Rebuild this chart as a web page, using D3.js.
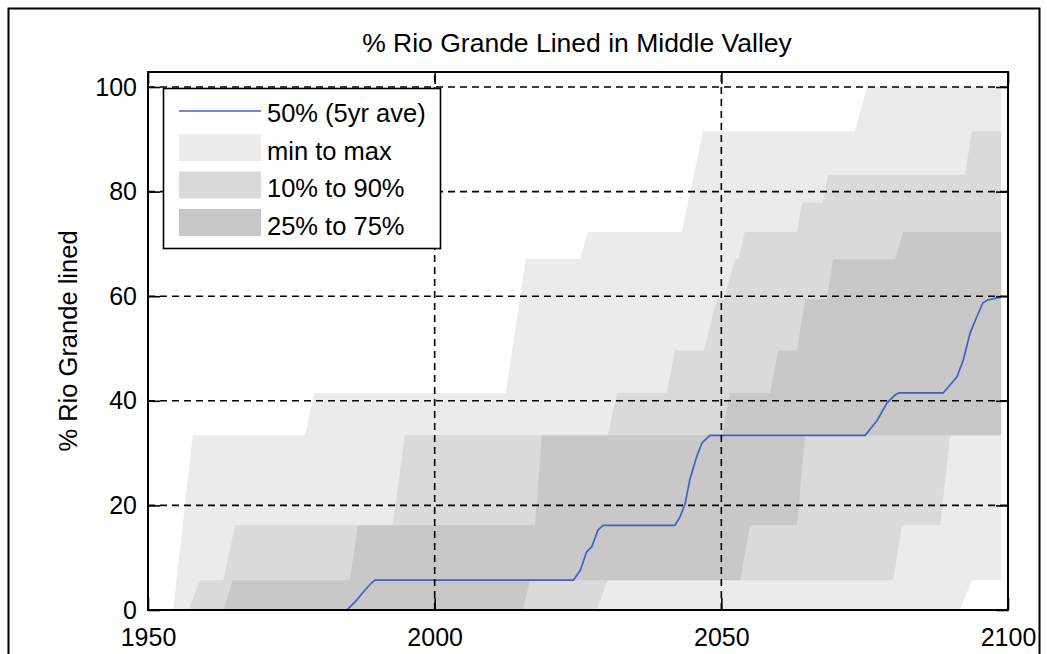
<!DOCTYPE html>
<html>
<head>
<meta charset="utf-8">
<script src="https://cdn.jsdelivr.net/npm/d3@7"></script>
<style>
  body { margin: 0; background: #fff; }
  svg { display: block; }
  text { font-family: "Liberation Sans", Arial, sans-serif; fill: #000; }
</style>
</head>
<body>
<svg id="chart"></svg>
<script>
// band edges, [year, % lined]
var maxEdge = [[1950,0],[1954.4,0],[1957.8,33.4],[1977.4,33.4],[1979.0,41.5],[2012.4,41.5],[2015.9,67.1],
  [2025.4,67.1],[2026.7,72.3],[2043.1,72.3],[2046.8,91.5],[2073.3,91.5],[2075.4,100],[2098.8,100]];
var p90Edge = [[1950,0],[1957.0,0],[1959.1,5.7],[1963.1,5.7],[1965.2,16.2],[1992.7,16.2],[1994.8,33.4],
  [2030.2,33.4],[2031.8,41.5],[2040.5,41.5],[2041.9,49.6],[2047.0,49.6],[2049.2,59.4],[2050.5,59.4],
  [2052.4,67.1],[2053.0,67.1],[2054.1,72.3],[2063.2,72.3],[2064.1,77.9],[2067.7,77.9],[2068.6,83.2],
  [2092.5,83.2],[2093.7,91.5],[2098.8,91.5]];
var p75Edge = [[1950,0],[1963.1,0],[1964.8,5.7],[1985.2,5.7],[1986.6,16.2],[2017.5,16.2],[2018.7,33.4],
  [2050.1,33.4],[2051.5,41.5],[2058.5,41.5],[2059.9,49.6],[2063.2,49.6],[2064.6,59.4],[2068.4,59.4],
  [2069.5,67.1],[2080.3,67.1],[2081.7,72.3],[2098.8,72.3]];
var p25Edge = [[1950,0],[2015.4,0],[2016.6,5.7],[2053.3,5.7],[2055.0,16.2],[2063.2,16.2],[2064.6,33.4],[2098.8,33.4]];
var p10Edge = [[1950,0],[2028.3,0],[2030.1,5.7],[2080.0,5.7],[2081.5,16.2],[2088.2,16.2],[2089.9,33.4],[2098.8,33.4]];
var minEdge = [[1950,0],[2091.6,0],[2093.7,5.7],[2098.8,5.7]];

// median (5 yr average)
var medianLine = [[1950,0],[1984.7,0],[1986.4,1.9],[1987.6,3.5],[1989.0,5.2],[1989.6,5.7],[2024.2,5.7],
  [2025.4,7.6],[2026.5,11.1],[2027.4,12.1],[2028.5,15.3],[2029.4,16.2],[2041.9,16.2],[2042.8,17.8],
  [2043.7,20.4],[2044.5,24.9],[2045.7,29.3],[2046.6,31.9],[2048.0,33.4],[2075.1,33.4],[2077.2,36.3],
  [2078.9,39.6],[2080.3,41.1],[2081.0,41.5],[2088.7,41.5],[2091.1,44.6],[2092.2,47.8],[2093.4,53.0],
  [2094.3,55.4],[2095.6,58.7],[2096.5,59.3],[2098.8,59.8]];

var xTicks = [1950, 2000, 2050, 2100];
var yTicks = [0, 20, 40, 60, 80, 100];
var legendLabels = ["50% (5yr ave)", "min to max", "10% to 90%", "25% to 75%"];

var width = 1047, height = 654;
var bandFill = ["#ebebeb", "#dadada", "#c8c8c8"];
var lineColor = "#4262c0";

var svg = d3.select("#chart")
    .attr("width", width)
    .attr("height", height);

// figure frame
svg.append("rect")
    .attr("x", 8.5).attr("y", 8.5)
    .attr("width", 1031).attr("height", 700)
    .style("fill", "none").style("stroke", "#000").style("stroke-width", 2);

var x = d3.scaleLinear().domain([1950, 2100]).range([148, 1008]);
var y = d3.scaleLinear().domain([0, 102.87]).range([610, 72]);

svg.append("clipPath").attr("id", "plotclip")
  .append("rect")
    .attr("x", x(1950)).attr("y", y(102.87))
    .attr("width", x(2100) - x(1950)).attr("height", y(0) - y(102.87));

var g = svg.append("g").attr("clip-path", "url(#plotclip)");

var line = d3.line()
    .x(function (d) { return x(d[0]); })
    .y(function (d) { return y(d[1]); });

function band(lower, upper) {
    return line(upper.concat(lower.slice().reverse())) + "Z";
}

g.selectAll("path.band")
    .data([[minEdge, maxEdge], [p10Edge, p90Edge], [p25Edge, p75Edge]])
    .enter()
    .append("path")
    .attr("class", "band")
    .attr("d", function (d) { return band(d[0], d[1]); })
    .style("fill", function (d, i) { return bandFill[i]; })
    .style("stroke", "none");

// grid
var grid = svg.append("g")
    .style("stroke", "#000")
    .style("stroke-width", 1.6)
    .style("stroke-dasharray", "7,5");

grid.selectAll("line.hgrid")
    .data(yTicks.filter(function (d) { return d > 0; }))
    .enter().append("line")
    .attr("x1", x(1950)).attr("x2", x(2100))
    .attr("y1", function (d) { return y(d); })
    .attr("y2", function (d) { return y(d); });

grid.selectAll("line.vgrid")
    .data(xTicks.slice(1, -1))
    .enter().append("line")
    .attr("y1", y(0)).attr("y2", y(102.87))
    .attr("x1", function (d) { return x(d); })
    .attr("x2", function (d) { return x(d); });

g.append("path")
    .datum(medianLine)
    .attr("d", line)
    .style("fill", "none")
    .style("stroke", lineColor)
    .style("stroke-width", 1.7);

// axes (ticks inward on all four sides, box on)
var tickLen = 12;
var axB = svg.append("g").attr("transform", "translate(0," + y(0) + ")")
    .call(d3.axisBottom(x).tickValues(xTicks).tickSizeInner(-tickLen).tickSizeOuter(0).tickFormat(d3.format("d")));
var axT = svg.append("g").attr("transform", "translate(0," + y(102.87) + ")")
    .call(d3.axisTop(x).tickValues(xTicks).tickSizeInner(-tickLen).tickSizeOuter(0).tickFormat(""));
var axL = svg.append("g").attr("transform", "translate(" + x(1950) + ",0)")
    .call(d3.axisLeft(y).tickValues(yTicks).tickSizeInner(-tickLen).tickSizeOuter(0).tickPadding(11));
var axR = svg.append("g").attr("transform", "translate(" + x(2100) + ",0)")
    .call(d3.axisRight(y).tickValues(yTicks).tickSizeInner(-tickLen).tickSizeOuter(0).tickFormat(""));

[axB, axT, axL, axR].forEach(function (a) {
    a.select(".domain").remove();
    a.selectAll(".tick line").style("stroke", "#000").style("stroke-width", 1.6);
    a.selectAll("text").style("font-size", "25px").style("font-family", "'Liberation Sans', Arial, sans-serif").style("fill", "#000");
});
axB.selectAll("text").attr("dy", null).attr("y", 36);

svg.append("rect")
    .attr("x", x(1950)).attr("y", y(102.87))
    .attr("width", x(2100) - x(1950)).attr("height", y(0) - y(102.87))
    .style("fill", "none").style("stroke", "#000").style("stroke-width", 2);

// title and y label
svg.append("text")
    .attr("x", 577).attr("y", 52)
    .attr("text-anchor", "middle")
    .style("font-size", "26.5px")
    .text("% Rio Grande Lined in Middle Valley");

svg.append("text")
    .attr("transform", "translate(77," + ((y(0) + y(102.87)) / 2) + ") rotate(-90)")
    .attr("text-anchor", "middle")
    .style("font-size", "25.5px")
    .text("%  Rio Grande lined");

// legend
var leg = svg.append("g");
leg.append("rect")
    .attr("x", 163.5).attr("y", 88.5).attr("width", 277).attr("height", 160)
    .style("fill", "#fff").style("stroke", "#000").style("stroke-width", 1.6);

leg.append("line")
    .attr("x1", 179).attr("x2", 261).attr("y1", 111).attr("y2", 111)
    .style("stroke", lineColor).style("stroke-width", 1.7);

leg.selectAll("rect.swatch")
    .data(bandFill)
    .enter().append("rect")
    .attr("class", "swatch")
    .attr("x", 179).attr("width", 82)
    .attr("y", function (d, i) { return 134 + i * 37.5; })
    .attr("height", 27)
    .style("fill", function (d) { return d; });

leg.selectAll("text.lbl")
    .data(legendLabels)
    .enter().append("text")
    .attr("class", "lbl")
    .attr("x", 267)
    .attr("y", function (d, i) { return 122 + i * 37.7; })
    .style("font-size", "25.5px")
    .text(function (d) { return d; });
</script>
</body>
</html>
